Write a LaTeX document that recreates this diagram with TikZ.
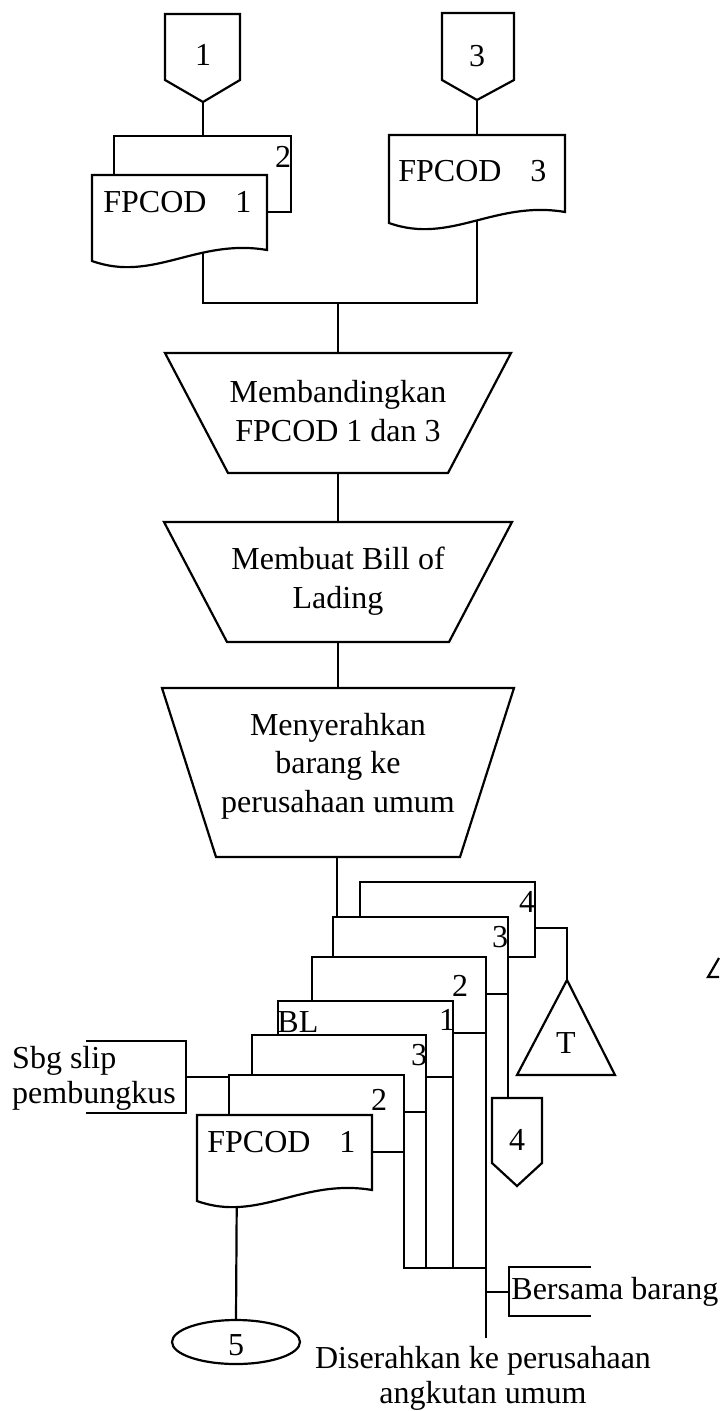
\documentclass[tikz,border=0pt]{standalone}
\usepackage{fontspec}
\setmainfont{Liberation Serif}
% document symbol with a wavy lower edge: name, left, top, right, lower right corner
\newcommand\wavedoc[5]{%
  \pgfmathsetmacro\wdA{#4-0.4*(#4-#2)}%
  \pgfmathsetmacro\wdB{#2+0.35*(#4-#2)}%
  \draw[shp] (#2,#3) -- (#4,#3) -- (#4,#5) .. controls (\wdA,#5-12) and (\wdB,#5+33) .. (#2,#5+11) -- cycle;
  \coordinate (#1) at ({(#2+#4)/2},{(#3+#5)/2});
}
\begin{document}
\begin{tikzpicture}[x=0.5pt,y=-0.5pt,
  shp/.style={draw=black, line width=1.1pt, fill=white, line join=miter},
  flow/.style={draw=black, line width=1.1pt},
  txt/.style={inner sep=0pt, font=\fontsize{16}{19.25}\selectfont},
  num/.style={inner sep=0pt, font=\fontsize{16}{19.25}\selectfont},
]
\useasboundingbox (0,0) rectangle (719,1411);

% ---------- connection points ----------
\coordinate (p1tip) at (203,102);
\coordinate (p3tip) at (477,100);
\coordinate (d1low) at (203,303);
\coordinate (d3low) at (477,303);
\coordinate (join)  at (338,303);
\coordinate (t1top) at (338,353);
\coordinate (t1bot) at (338,473);
\coordinate (t2top) at (338,522);
\coordinate (t2bot) at (338,642);
\coordinate (t3top) at (338,688);
\coordinate (t3bot) at (337,857);
\coordinate (bl3top) at (337,917);
\coordinate (bl4out) at (535,928);
\coordinate (tapex) at (567,980);
\coordinate (bl3out) at (508,994);
\coordinate (p4top) at (508,1098);
\coordinate (bl2out) at (486,1033);
\coordinate (bl1out) at (453,1077);
\coordinate (fp3out) at (426,1112);
\coordinate (fp2out) at (404,1152);
\coordinate (mergeL) at (404,1268);
\coordinate (mergeR) at (486,1268);
\coordinate (handoff) at (486,1338);
\coordinate (withgoods) at (509,1292);
\coordinate (slipbr) at (186,1077);
\coordinate (fp2corner) at (229,1077);
\coordinate (ell5top) at (236,1320);

% ---------- flow lines (shapes are drawn over them) ----------
\draw[flow] (p1tip) -- (203,136);
\draw[flow] (p3tip) -- (477,135);
\draw[flow] (203,240) -- (d1low) -- (d3low) -- (477,200);
\draw[flow] (join) -- (t1top);
\draw[flow] (t1bot) -- (t2top);
\draw[flow] (t2bot) -- (t3top);
\draw[flow] (t3bot) -- (bl3top);
\draw[flow] (bl4out) -| (tapex);
\draw[flow] (bl3out) -- (p4top);
\draw[flow] (bl2out) -- (handoff);
\draw[flow] (bl1out) -- (453,1268);
\draw[flow] (fp3out) -- (426,1268);
\draw[flow] (fp2out) -- (mergeL) -- (mergeR);
\draw[flow] (486,1292) -- (withgoods);
\draw[flow] (591,1267) -- (509,1267) -- (509,1316) -- (591,1316);
\draw[flow] (slipbr) -- (fp2corner);
\draw[flow] (86,1041) -- (186,1041) -- (186,1113) -- (86,1113);
\draw[flow] (237,1160) -- (ell5top);

% ---------- off-page connectors ----------
\draw[shp] (165,14) -- (240,14) -- (240,80) -- (p1tip) -- (165,80) -- cycle;
\draw[shp] (442,13) -- (514,13) -- (514,80) -- (p3tip) -- (442,80) -- cycle;
\draw[shp] (492,1098) -- (542,1098) -- (542,1163) -- (517,1186) -- (492,1163) -- cycle;

% ---------- FPCOD documents at the top ----------
\draw[shp] (114,136) rectangle (291,212);
\wavedoc{fp1}{92}{175}{267}{250}
\wavedoc{fp3}{389}{135}{565}{212}

% ---------- manual operations ----------
\draw[shp] (165,353) -- (511,353) -- (448,473) -- (228,473) -- cycle;
\draw[shp] (164,522) -- (512,522) -- (449,642) -- (227,642) -- cycle;
\draw[shp] (162,688) -- (514,688) -- (460,857) -- (216,857) -- cycle;

% ---------- bill of lading set and FPCOD set ----------
\draw[shp] (360,882) rectangle (535,957);
\draw[shp] (333,917) rectangle (508,994);
\draw[shp] (312,957) rectangle (486,1033);
\draw[shp] (278,1001) rectangle (453,1077);
\draw[shp] (252,1035) rectangle (426,1112);
\draw[shp] (229,1075) rectangle (404,1152);
\wavedoc{fpb}{197}{1115}{372}{1190}

% ---------- file, connector, partial symbol at the edge ----------
\draw[shp] (tapex) -- (615,1075) -- (517,1075) -- cycle;
\draw[shp] (236,1342) ellipse [x radius=64, y radius=22];
\draw[flow] (719,958) -- (708,977) -- (719,977);

% ---------- texts ----------
\node[num] (n1) at (203,55) {1};
\node[num] (n3) at (477,56) {3};
\node[num] (c2top) at (283,157) {2};
\node[txt, anchor=base west] (fpa) at (103,213) {FPCOD\hspace{0.9em}1};
\node[txt, anchor=base west] (fpc) at (398,182) {FPCOD\hspace{0.9em}3};

\node[txt, align=center] (op1) at (338,411) {Membandingkan\\FPCOD 1 dan 3};
\node[txt, align=center] (op2) at (338,581) {Membuat Bill of\\Lading};
\node[txt, align=center] (op3) at (338,766) {Menyerahkan\\barang ke\\perusahaan umum};

\node[num] (bl4) at (527,902) {4};
\node[num] (bl3) at (500,937) {3};
\node[num] (bl2) at (460,986) {2};
\node[num] (bl1) at (447,1020) {1};
\node[txt, anchor=base west] (bl) at (277,1032) {BL};
\node[num] (fc3) at (419,1055) {3};
\node[num] (fc2) at (379,1100) {2};
\node[txt, anchor=base west] (fpd) at (207,1152) {FPCOD\hspace{0.9em}1};

\node[num] (tt) at (566,1043) {T};
\node[num] (n4) at (517,1140) {4};
\node[num] (n5) at (236,1345) {5};

\node[txt, align=left, font=\fontsize{16}{17.5}\selectfont] (slip) at (94,1078) {Sbg slip\\pembungkus};
\node[txt, anchor=base west] (goods) at (511,1299) {Bersama barang};
\node[txt, align=center, font=\fontsize{16}{17.5}\selectfont] (carrier) at (483,1378) {Diserahkan ke perusahaan\\angkutan umum};
\end{tikzpicture}
\end{document}
